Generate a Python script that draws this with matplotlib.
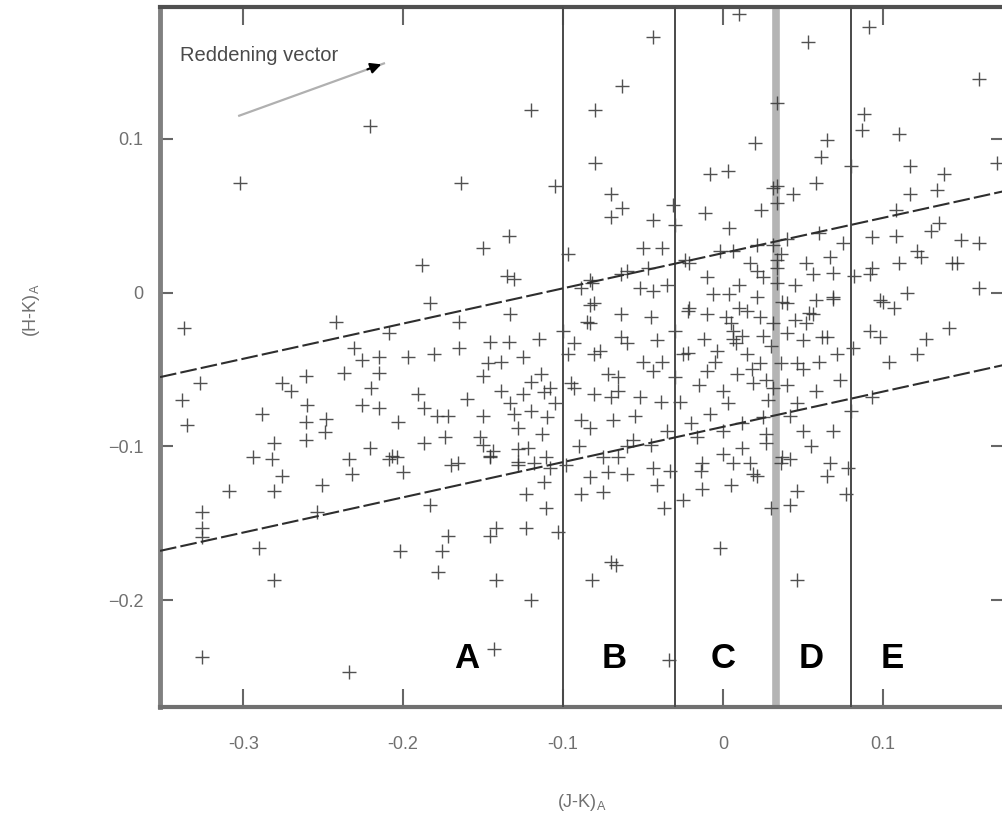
import matplotlib
matplotlib.use('Agg')
import matplotlib.pyplot as plt

# colour indices (J-K)_A and (H-K)_A
jk = [
    # upper part
    -0.302, -0.221, -0.164, -0.120, -0.134, -0.150, -0.105, -0.080, -0.080, -0.044,
    -0.063, -0.070, -0.063, -0.070, -0.044, -0.031, 0.010, 0.053, 0.034, 0.091,
    0.160, 0.088, 0.087, 0.110, 0.020, 0.065, 0.061, -0.008, 0.003, 0.080,
    0.117, 0.138, 0.134, 0.117, 0.058, 0.044, 0.034, 0.034, -0.011, 0.024,
    0.004, 0.108, 0.130, 0.135, 0.093, 0.108, 0.149, 0.160, 0.171, 0.031,
    0.060, 0.040, 0.075, -0.030,
    # around zero
    -0.188, -0.135, -0.131, -0.183, -0.097, -0.050, -0.038, -0.060, -0.047, -0.082,
    -0.089, -0.052, -0.044, -0.024, -0.002, 0.006, 0.021, 0.031, 0.036, 0.021,
    0.025, 0.034, 0.034, 0.017, 0.034, -0.021, 0.052, 0.069, -0.083, -0.064,
    # right middle
    0.121, 0.124, 0.143, 0.110, 0.146, 0.067, 0.093, 0.082, 0.160, 0.056,
    0.092, 0.069, 0.098, 0.107, 0.115, 0.100, 0.056, 0.040, 0.052, 0.065,
    0.098, 0.141, 0.127, 0.040, 0.081, 0.121, 0.092, 0.104, 0.093, 0.069,
    0.080, 0.078, 0.065, 0.037, 0.054, 0.069, 0.062, 0.050, 0.046, 0.071,
    0.073, 0.058, 0.042, 0.046, 0.025, 0.027, 0.037, 0.050, 0.067, 0.009,
    0.027, -0.004,
    # dense centre
    -0.006, 0.004, -0.021, -0.010, 0.002, 0.006, 0.021, 0.023, 0.031, -0.045,
    -0.081, -0.085, -0.064, -0.022, -0.083, -0.083,
    -0.072, -0.081, -0.093, -0.060, -0.041, -0.022, 0.006, -0.010, -0.044, -0.050,
    -0.066, -0.081, -0.093, -0.027, -0.039, -0.052, 0.000, 0.019, 0.031, 0.036,
    0.023, -0.008, -0.069, -0.089, -0.056, -0.045, -0.016, 0.000, 0.012, 0.027,
    -0.075, -0.083, -0.033, -0.014, 0.019, 0.036,
    -0.100, -0.077, -0.064, -0.066, -0.095, -0.070, -0.025, -0.083, -0.066, 0.012,
    0.008, -0.012, 0.015, -0.030, 0.045, 0.010, 0.030,
    0.005, 0.015, 0.025, -0.005, 0.018, -0.015, 0.028, 0.003, -0.030, -0.020,
    0.040, 0.012, -0.035, 0.050, 0.060, 0.058, 0.045, 0.010, -0.010, -0.035,
    -0.038, -0.055, -0.090, -0.060, 0.000, 0.005, -0.025, 0.030, 0.055,
    # lower centre
    -0.098, -0.103, -0.089, -0.075, -0.072, -0.060, -0.070, -0.067, -0.082, -0.041,
    -0.037, -0.044, -0.013, -0.013, 0.006, 0.017, 0.021, -0.002, 0.046, 0.042,
    0.046, 0.077, -0.034, 0.042,
    # lower left
    -0.309, -0.326, -0.326, -0.326, -0.290, -0.281, -0.326, -0.234, -0.276, -0.281,
    -0.251, -0.254, -0.234, -0.232, -0.282, -0.294, -0.207, -0.200, -0.170, -0.183,
    -0.202, -0.176, -0.172, -0.178, -0.142, -0.146, -0.142, -0.123, -0.123, -0.111,
    -0.120, -0.143, -0.146, -0.128, -0.111, -0.112,
    # middle left
    -0.337, -0.242, -0.209, -0.165, -0.133, -0.115, -0.146, -0.134, -0.165, -0.181,
    -0.197, -0.215, -0.231, -0.226, -0.327, -0.338, -0.335, -0.276, -0.270, -0.261,
    -0.260, -0.261, -0.248, -0.249, -0.261, -0.288, -0.281, -0.237, -0.215, -0.220,
    -0.226, -0.215, -0.203, -0.221, -0.209, -0.191, -0.187, -0.179, -0.172, -0.160,
    -0.150, -0.150, -0.139, -0.133, -0.131, -0.128, -0.120, -0.120, -0.113, -0.122,
    -0.128, -0.150, -0.144, -0.166, -0.187, -0.204, -0.147, -0.139, -0.125, -0.114,
    -0.108, -0.097, -0.125, -0.112, -0.105, -0.110, -0.174, -0.152, -0.128, -0.146,
    -0.118, -0.108,
]
hk = [
    # upper part
    0.071, 0.108, 0.071, 0.119, 0.037, 0.029, 0.069, 0.119, 0.084, 0.166,
    0.134, 0.064, 0.055, 0.049, 0.047, 0.057, 0.181, 0.163, 0.123, 0.173,
    0.139, 0.116, 0.106, 0.103, 0.097, 0.099, 0.088, 0.077, 0.079, 0.082,
    0.082, 0.077, 0.067, 0.064, 0.071, 0.064, 0.069, 0.058, 0.052, 0.054,
    0.042, 0.054, 0.040, 0.045, 0.036, 0.037, 0.034, 0.032, 0.084, 0.068,
    0.039, 0.035, 0.032, 0.044,
    # around zero
    0.018, 0.011, 0.009, -0.007, 0.025, 0.029, 0.029, 0.014, 0.016, 0.006,
    0.003, 0.003, 0.001, 0.021, 0.027, 0.027, 0.031, 0.031, 0.025, 0.014,
    0.010, 0.016, 0.006, 0.019, 0.021, 0.019, 0.019, 0.013, 0.008, 0.012,
    # right middle
    0.027, 0.023, 0.019, 0.019, 0.019, 0.023, 0.016, 0.011, 0.003, 0.012,
    0.012, -0.003, -0.005, -0.010, 0.000, -0.006, -0.014, -0.007, -0.020, -0.029,
    -0.029, -0.023, -0.030, -0.026, -0.036, -0.040, -0.025, -0.045, -0.068, -0.090,
    -0.077, -0.114, -0.119, -0.006, -0.013, -0.004, -0.029, -0.031, -0.046, -0.040,
    -0.057, -0.064, -0.080, -0.072, -0.081, -0.098, -0.107, -0.090, -0.111, -0.053,
    -0.057, -0.038,
    # dense centre
    -0.001, -0.001, -0.010, -0.014, -0.016, -0.025, -0.003, -0.016, -0.020, -0.016,
    -0.007, -0.019, -0.014, -0.012, -0.020, -0.008,
    -0.053, -0.040, -0.033, -0.033, -0.031, -0.039, -0.030, -0.051, -0.051, -0.045,
    -0.064, -0.066, -0.062, -0.071, -0.071, -0.068, -0.064, -0.059, -0.062, -0.046,
    -0.046, -0.079, -0.083, -0.083, -0.096, -0.099, -0.094, -0.090, -0.101, -0.092,
    -0.107, -0.120, -0.116, -0.116, -0.118, -0.111,
    -0.025, -0.038, -0.029, -0.055, -0.059, -0.068, -0.040, -0.088, -0.107, -0.028,
    -0.033, -0.030, -0.040, -0.025, -0.018, -0.010, -0.035,
    -0.020, -0.012, -0.028, -0.045, -0.050, -0.060, -0.070, -0.072, -0.055, -0.085,
    -0.060, -0.085, -0.090, -0.050, -0.045, -0.005, 0.005, 0.005, 0.010, 0.005,
    -0.045, -0.080, -0.100, -0.100, -0.105, -0.125, -0.135, -0.140, -0.100,
    # lower centre
    -0.112, -0.156, -0.131, -0.130, -0.117, -0.118, -0.175, -0.177, -0.187, -0.125,
    -0.140, -0.114, -0.111, -0.128, -0.111, -0.111, -0.119, -0.166, -0.129, -0.138,
    -0.187, -0.131, -0.239, -0.108,
    # lower left
    -0.129, -0.143, -0.153, -0.159, -0.166, -0.187, -0.237, -0.247, -0.119, -0.129,
    -0.125, -0.143, -0.108, -0.118, -0.108, -0.107, -0.106, -0.117, -0.112, -0.138,
    -0.168, -0.168, -0.158, -0.182, -0.153, -0.158, -0.187, -0.153, -0.131, -0.140,
    -0.200, -0.232, -0.106, -0.110, -0.107, -0.123,
    # middle left
    -0.023, -0.019, -0.026, -0.019, -0.014, -0.030, -0.032, -0.032, -0.036, -0.040,
    -0.042, -0.042, -0.036, -0.044, -0.059, -0.070, -0.086, -0.059, -0.064, -0.054,
    -0.073, -0.084, -0.082, -0.091, -0.096, -0.079, -0.098, -0.052, -0.052, -0.062,
    -0.073, -0.075, -0.084, -0.101, -0.108, -0.066, -0.075, -0.080, -0.080, -0.069,
    -0.054, -0.080, -0.064, -0.072, -0.079, -0.088, -0.058, -0.077, -0.092, -0.101,
    -0.112, -0.099, -0.103, -0.111, -0.098, -0.107, -0.046, -0.045, -0.042, -0.053,
    -0.062, -0.040, -0.066, -0.065, -0.072, -0.081, -0.094, -0.094, -0.102, -0.107,
    -0.111, -0.114,
]

# group boundaries in (J-K)_A and group names
boundaries = [-0.1, -0.03, 0.033, 0.08]
groups = ['A', 'B', 'C', 'D', 'E']
group_x = [-0.160, -0.068, 0.000, 0.055, 0.106]
group_y = -0.238

# dashed band limits
band_x = [-0.352, 0.176]
band_upper = [-0.055, 0.066]
band_lower = [-0.168, -0.047]

# reddening vector
vec_start = (-0.3025, 0.115)
vec_end = (-0.212, 0.149)

plt.rcParams['font.family'] = ['Liberation Sans', 'DejaVu Sans']

fig = plt.figure(figsize=(10.02, 8.21), dpi=100)
ax = fig.add_axes([0.1597, 0.1389, 0.8413, 0.8526])

ax.plot(jk, hk, linestyle='none', marker='+', markersize=10.5,
        markeredgewidth=1.0, color='#333333', alpha=0.85, zorder=2)

for b in boundaries:
    if b == 0.033:
        ax.axvline(b, color='#b4b4b4', lw=5.5, zorder=1)
    else:
        ax.axvline(b, color='#4a4a4a', lw=1.4, zorder=3)

ax.plot(band_x, band_upper, color='#2e2e2e', lw=1.5, dashes=(8, 2), zorder=3)
ax.plot(band_x, band_lower, color='#2e2e2e', lw=1.5, dashes=(8, 2), zorder=3)

for g, gx in zip(groups, group_x):
    ax.text(gx, group_y, g, fontsize=25, fontweight='bold', ha='center',
            va='center', color='black', zorder=4)

ax.plot([vec_start[0], vec_end[0]], [vec_start[1], vec_end[1]],
        color='#b0b0b0', lw=1.6, zorder=3)
ax.annotate('', xy=vec_end, xytext=(vec_end[0] - 0.012, vec_end[1] - 0.0045),
            arrowprops=dict(arrowstyle='-|>', color='black', lw=1.5,
                            mutation_scale=16), zorder=4)
ax.text(-0.3396, 0.154, 'Reddening vector', fontsize=14.5, color='#4a4a4a',
        ha='left', va='center')

ax.set_xlim(-0.352, 0.175)
ax.set_ylim(-0.2695, 0.1857)

ax.set_xticks([-0.3, -0.2, -0.1, 0, 0.1])
ax.set_xticklabels(['-0.3', '-0.2', '-0.1', '0', '0.1'])
ax.set_yticks([-0.2, -0.1, 0, 0.1])
ax.set_yticklabels(['\u22120.2', '\u22120.1', '0', '0.1'])

ax.tick_params(axis='x', direction='in', length=13, width=1.5, colors='#666666',
               labelsize=13, pad=21, top=True)
ax.tick_params(axis='y', direction='in', length=9, width=1.5, colors='#666666',
               labelsize=13, pad=12, right=True)
for lab in ax.get_xticklabels() + ax.get_yticklabels():
    lab.set_color('#707070')

ax.spines['left'].set_color('#808080')
ax.spines['left'].set_linewidth(3.5)
ax.spines['bottom'].set_color('#707070')
ax.spines['bottom'].set_linewidth(3)
ax.spines['top'].set_color('#505050')
ax.spines['top'].set_linewidth(3)
ax.spines['right'].set_color('#707070')
ax.spines['right'].set_linewidth(3)

ax.set_xlabel('(J-K)$_\\mathregular{A}$', fontsize=13, color='#707070')
ax.xaxis.set_label_coords(0.5, -0.122)
ax.set_ylabel('(H-K)$_\\mathregular{A}$', fontsize=13, color='#707070')
ax.yaxis.set_label_coords(-0.140, 0.567)

fig.savefig('out.png', dpi=100)
